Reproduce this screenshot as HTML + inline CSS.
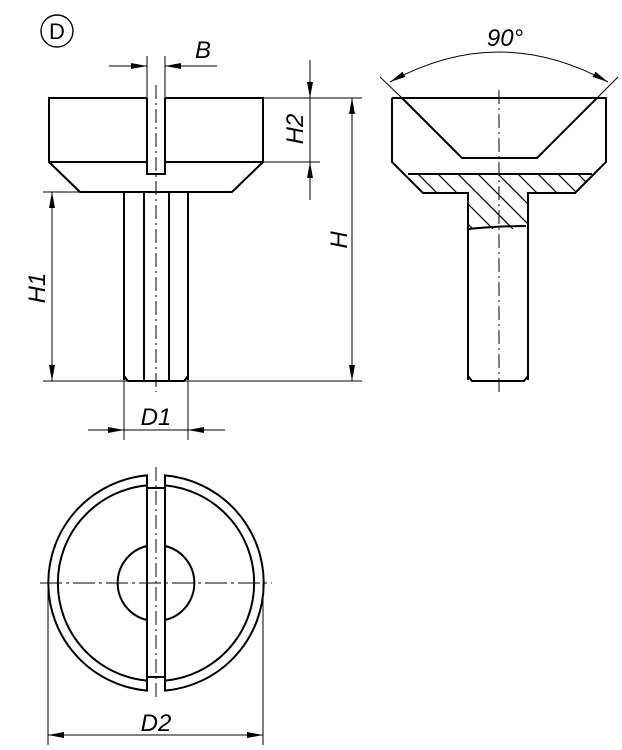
<!DOCTYPE html>
<html><head><meta charset="utf-8"><style>html,body{margin:0;padding:0;background:#fff}svg{display:block}</style></head>
<body>
<svg width="622" height="750" viewBox="0 0 622 750" xmlns="http://www.w3.org/2000/svg" font-family="Liberation Sans Narrow, Liberation Sans, sans-serif" font-style="italic">
<defs>
<marker id="a" viewBox="0 0 16 6" refX="16" refY="3" markerWidth="16" markerHeight="6" orient="auto-start-reverse" markerUnits="userSpaceOnUse"><path d="M0,0L16,3L0,6z" fill="#000"/></marker>
<clipPath id="hc"><path d="M408,174H592L575,193H528V229H468V193H423Z"/></clipPath>
</defs>
<g fill="none" stroke="#000">
<circle cx="57" cy="31" r="16" stroke-width="1.4"/>
<g stroke-width="2">
<path d="M147,98H49V162H147M165,98H263V162H165"/>
<path d="M49,162L80,192H232L263,162"/>
<path d="M147,98V174H165V98"/>
<path d="M124,192V380M188,192V380M144,192V380M169,192V380"/>
<path d="M124,376L128,381H184L188,376"/>
</g>
<g stroke-width="1">
<path d="M156,85V392" stroke-dasharray="14,4,2,4"/>
<path d="M147,56V98M165,56V98"/>
<line x1="109" y1="66" x2="147" y2="66" marker-end="url(#a)"/>
<line x1="217" y1="66" x2="165" y2="66" marker-end="url(#a)"/>
<path d="M263,98H362M263,162H320M43,192H124M43,381H362"/>
<line x1="310" y1="60" x2="310" y2="98" marker-end="url(#a)"/>
<line x1="310" y1="200" x2="310" y2="162" marker-end="url(#a)"/>
<line x1="310" y1="98" x2="310" y2="162"/>
<line x1="352" y1="98" x2="352" y2="381" marker-start="url(#a)" marker-end="url(#a)"/>
<line x1="52" y1="192" x2="52" y2="381" marker-start="url(#a)" marker-end="url(#a)"/>
<path d="M124,381V440M188,381V440"/>
<line x1="88" y1="430" x2="124" y2="430" marker-end="url(#a)"/>
<line x1="225" y1="430" x2="188" y2="430" marker-end="url(#a)"/>
<line x1="124" y1="430" x2="188" y2="430"/>
</g>
<g clip-path="url(#hc)" stroke-width="1.2">
<path d="M380,174L420,214M398,174L438,214M418,174L473,229M438,174L493,229M458,174L513,229M478,174L533,229M498,174L553,229M518,174L558,214M538,174L578,214M558,174L598,214M578,174L618,214"/>
</g>
<g stroke-width="2">
<path d="M392,98H606V162L575,193H528V380M392,98V162L423,193H468V380"/>
<path d="M408,174H592"/>
<path d="M402,98L462,158H537L597,98"/>
<path d="M468,229Q500,226 526,226"/>
<path d="M468,376L472,381H524L528,376"/>
</g>
<g stroke-width="1">
<path d="M499,90V392" stroke-dasharray="14,4,2,4"/>
<path d="M380,77L402,98M618,77L597,98"/>
<path d="M390,82Q499,22 608,82" marker-start="url(#a)" marker-end="url(#a)"/>
</g>
<g stroke-width="2">
<path d="M147,475.4A108,108 0 0,0 147,690.6Z"/>
<path d="M165,475.4A108,108 0 0,1 165,690.6Z"/>
<path d="M147,485.4A98,98 0 0,0 147,680.6M165,485.4A98,98 0 0,1 165,680.6"/>
<path d="M147,488H165M147,677H165"/>
<path d="M147,546A38,38 0 0,0 147,620M165,546A38,38 0 0,1 165,620"/>
</g>
<g stroke-width="1">
<path d="M40,583H272" stroke-dasharray="22,4,3,4"/>
<path d="M156,467V700" stroke-dasharray="14,4,2,4"/>
<path d="M48,583V745M263,583V745"/>
<line x1="48" y1="735" x2="263" y2="735" marker-start="url(#a)" marker-end="url(#a)"/>
</g>
</g>
<text x="57" y="39" text-anchor="middle" font-size="22" font-style="normal" fill="#000">D</text>
<g font-size="24" fill="#000">
<text x="203" y="58" text-anchor="middle">B</text>
<text x="156" y="425" text-anchor="middle">D1</text>
<text x="156" y="731" text-anchor="middle">D2</text>
<text x="505" y="46" text-anchor="middle">90°</text>
<text transform="translate(303,129) rotate(-90)" text-anchor="middle">H2</text>
<text transform="translate(347,240) rotate(-90)" text-anchor="middle">H</text>
<text transform="translate(45,288) rotate(-90)" text-anchor="middle">H1</text>
</g>
</svg>
</body></html>
